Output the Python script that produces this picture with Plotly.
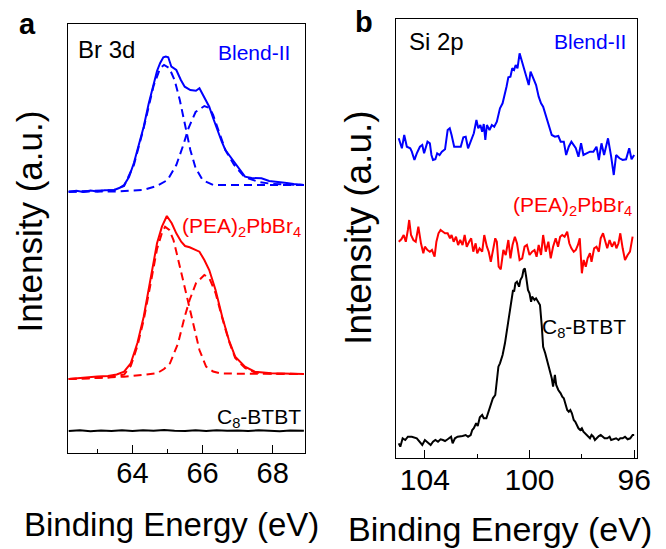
import plotly.graph_objects as go

# ---------------- Panel a: Br 3d ----------------
br_blend = [(62.18, 261.3), (62.4, 262.3), (62.6, 261.0), (62.8, 262.5), (63.0, 261.5), (63.2, 262.8),
            (63.48, 263.0), (63.62, 265.0), (63.76, 268.0), (63.9, 276.0), (64.04, 290.0), (64.18, 307.0),
            (64.32, 326.3), (64.46, 349.0), (64.6, 370.0), (64.7, 382.0), (64.79, 390.0), (64.88, 395.7),
            (64.95, 396.5), (65.02, 395.7), (65.11, 386.3), (65.25, 383.0), (65.38, 373.0), (65.49, 366.3),
            (65.65, 363.0), (65.81, 362.3), (65.91, 364.7), (66.05, 356.0), (66.19, 346.3), (66.3, 335.0),
            (66.42, 323.0), (66.55, 311.0), (66.65, 303.0), (66.8, 296.0), (66.93, 290.0), (67.07, 283.0),
            (67.21, 276.3), (67.4, 275.0), (67.68, 274.7), (67.9, 272.0), (68.14, 270.7), (68.4, 270.0),
            (68.6, 269.0), (68.89, 268.0)]
br_blend_fit1 = [(62.18, 261.3), (63.48, 263.0), (63.76, 267.0), (64.04, 288.0), (64.32, 325.0), (64.6, 367.0),
                 (64.79, 385.0), (64.9, 388.0), (65.05, 385.0), (65.2, 373.0), (65.35, 353.0), (65.5, 328.0),
                 (65.65, 303.0), (65.8, 285.0), (66.0, 273.0), (66.3, 268.0), (66.8, 267.7), (67.5, 268.0),
                 (68.89, 268.0)]
br_blend_fit2 = [(62.18, 261.3), (63.5, 261.5), (64.3, 263.0), (64.7, 267.0), (65.0, 273.0), (65.25, 288.0),
                 (65.45, 308.0), (65.6, 325.0), (65.8, 341.0), (66.05, 347.0), (66.2, 345.0), (66.3, 338.0),
                 (66.45, 323.0), (66.65, 303.0), (66.9, 288.0), (67.2, 276.0), (67.6, 271.0), (68.0, 269.0),
                 (68.89, 268.0)]
br_pea = [(62.18, 74.0), (62.6, 75.5), (63.0, 76.5), (63.3, 77.0), (63.55, 78.5), (63.76, 81.3), (63.95, 89.7),
          (64.14, 110.0), (64.32, 136.3), (64.51, 173.0), (64.7, 209.7), (64.84, 226.3), (64.98, 237.0),
          (65.12, 229.7), (65.25, 219.7), (65.39, 211.3), (65.5, 207.0), (65.63, 205.7), (65.78, 203.5),
          (65.91, 201.3), (66.05, 193.0), (66.19, 183.0), (66.37, 163.0), (66.56, 136.3), (66.75, 113.0),
          (66.93, 96.3), (67.21, 86.3), (67.49, 81.3), (67.96, 79.7), (68.4, 79.3), (68.89, 79.0)]
br_pea_fit1 = [(62.18, 74.0), (63.3, 75.5), (63.76, 78.5), (63.95, 87.0), (64.14, 107.0), (64.32, 133.0),
               (64.51, 168.0), (64.7, 204.0), (64.84, 220.0), (64.93, 226.3), (65.05, 223.0), (65.17, 213.0),
               (65.28, 197.0), (65.39, 180.0), (65.5, 163.0), (65.63, 146.0), (65.75, 125.0), (65.91, 103.0),
               (66.1, 86.3), (66.3, 81.5), (66.5, 79.7), (67.0, 79.3), (68.89, 79.0)]
br_pea_fit2 = [(62.18, 74.0), (63.76, 76.3), (64.7, 79.7), (64.9, 84.0), (65.07, 89.7), (65.3, 109.7),
               (65.49, 136.3), (65.63, 153.0), (65.81, 169.7), (66.05, 178.0), (66.19, 175.0), (66.37, 160.0),
               (66.56, 135.0), (66.75, 112.0), (66.93, 95.0), (67.21, 85.0), (67.5, 80.5), (68.0, 79.3),
               (68.89, 79.0)]
br_c8 = [(62.18, 22.0), (62.5, 22.8), (62.8, 21.8), (63.1, 22.6), (63.4, 22.0), (63.7, 22.7), (64.0, 22.1),
         (64.3, 22.8), (64.6, 22.2), (64.9, 22.9), (65.2, 22.3), (65.5, 22.0), (65.8, 22.7), (66.1, 22.1),
         (66.4, 22.8), (66.7, 22.2), (67.0, 22.6), (67.3, 22.0), (67.6, 22.8), (67.9, 22.3), (68.2, 21.7),
         (68.5, 22.6), (68.89, 22.2)]

# ---------------- Panel b: Si 2p ----------------
si_blend = [(105.0, 319.4), (104.88, 309.4), (104.79, 322.7), (104.69, 311.0), (104.56, 309.4), (104.5, 306.0),
            (104.4, 297.7), (104.31, 304.4), (104.19, 311.0), (104.1, 312.7), (104.03, 304.4), (103.9, 316.0),
            (103.81, 314.4), (103.75, 302.7), (103.69, 297.7), (103.6, 298.4), (103.53, 304.4), (103.44, 302.7),
            (103.35, 306.0), (103.23, 308.4), (103.13, 327.7), (103.05, 329.4), (102.98, 322.7), (102.88, 311.0),
            (102.75, 311.0), (102.63, 311.0), (102.53, 320.4), (102.44, 321.0), (102.35, 309.4), (102.25, 316.0),
            (102.13, 324.4), (102.03, 337.7), (101.96, 329.4), (101.88, 332.7), (101.81, 326.0), (101.75, 333.7),
            (101.69, 317.7), (101.63, 332.7), (101.53, 327.7), (101.44, 332.7), (101.35, 331.0), (101.25, 336.0),
            (101.13, 349.4), (101.03, 354.4), (100.96, 361.0), (100.88, 371.0), (100.81, 380.4), (100.73, 381.0),
            (100.66, 389.4), (100.59, 387.7), (100.53, 392.7), (100.46, 389.4), (100.38, 404.4), (100.28, 396.0),
            (100.19, 386.0), (100.13, 382.7), (100.03, 372.7), (99.96, 386.0), (99.88, 381.0), (99.75, 372.7),
            (99.65, 361.0), (99.56, 354.4), (99.48, 351.0), (99.38, 342.7), (99.25, 332.7), (99.15, 322.7),
            (99.03, 321.0), (98.9, 321.7), (98.81, 316.0), (98.69, 316.0), (98.6, 302.7), (98.5, 311.0),
            (98.4, 316.0), (98.31, 312.7), (98.23, 309.4), (98.13, 301.0), (98.03, 314.4), (97.94, 302.7),
            (97.81, 304.4), (97.69, 306.0), (97.56, 306.0), (97.44, 311.0), (97.35, 297.7), (97.25, 314.4),
            (97.15, 302.7), (97.0, 319.4), (96.88, 301.0), (96.78, 282.7), (96.69, 302.7), (96.56, 299.4),
            (96.44, 297.7), (96.31, 298.4), (96.19, 309.4), (96.1, 298.4), (96.0, 302.7)]
si_pea = [(105.0, 216.0), (104.9, 218.4), (104.81, 222.7), (104.73, 216.0), (104.65, 227.7), (104.6, 237.7),
          (104.53, 222.7), (104.44, 217.7), (104.35, 216.0), (104.25, 231.0), (104.15, 214.4), (104.06, 204.4),
          (104.0, 211.0), (103.9, 207.7), (103.81, 206.0), (103.73, 207.7), (103.63, 201.0), (103.56, 216.0),
          (103.48, 224.4), (103.4, 227.7), (103.31, 226.0), (103.23, 224.4), (103.13, 224.4), (103.04, 219.4),
          (102.98, 222.7), (102.9, 216.0), (102.81, 221.0), (102.73, 212.7), (102.65, 217.7), (102.56, 212.7),
          (102.48, 222.7), (102.4, 211.0), (102.31, 216.0), (102.23, 219.4), (102.15, 206.0), (102.06, 214.4),
          (102.0, 204.4), (101.91, 209.4), (101.81, 206.0), (101.73, 222.7), (101.63, 211.0), (101.56, 206.0),
          (101.48, 196.0), (101.4, 207.7), (101.31, 219.4), (101.25, 216.0), (101.18, 191.0), (101.1, 188.4),
          (101.0, 207.7), (100.91, 202.7), (100.81, 217.7), (100.73, 199.4), (100.65, 212.7), (100.56, 221.0),
          (100.48, 214.4), (100.38, 197.7), (100.28, 199.4), (100.19, 211.0), (100.1, 212.7), (100.0, 202.7),
          (99.9, 206.0), (99.81, 207.7), (99.73, 201.0), (99.65, 212.7), (99.56, 202.7), (99.48, 222.7),
          (99.38, 206.0), (99.28, 216.0), (99.19, 199.4), (99.1, 211.0), (99.0, 219.4), (98.91, 211.0),
          (98.83, 221.0), (98.75, 222.7), (98.66, 221.0), (98.56, 226.0), (98.48, 214.4), (98.4, 209.4),
          (98.31, 206.0), (98.23, 207.7), (98.15, 212.7), (98.08, 219.4), (98.0, 184.4), (97.93, 197.7),
          (97.85, 191.0), (97.78, 199.4), (97.69, 204.4), (97.63, 196.0), (97.53, 209.4), (97.44, 211.0),
          (97.35, 206.0), (97.28, 219.4), (97.19, 224.4), (97.1, 216.0), (97.03, 209.4), (96.94, 217.7),
          (96.85, 211.0), (96.75, 216.0), (96.68, 209.4), (96.6, 214.4), (96.53, 224.4), (96.44, 209.4),
          (96.35, 197.7), (96.25, 202.7), (96.16, 206.0), (96.06, 221.0)]
si_c8 = [(105.0, 14.4), (104.94, 11.0), (104.85, 19.4), (104.75, 17.7), (104.65, 21.0), (104.5, 21.0),
         (104.31, 19.4), (104.19, 16.0), (104.1, 12.7), (104.0, 17.7), (103.88, 14.4), (103.78, 12.7),
         (103.69, 16.0), (103.6, 17.7), (103.5, 16.0), (103.4, 18.4), (103.31, 17.7), (103.23, 16.7),
         (103.13, 18.4), (103.0, 21.0), (102.94, 14.4), (102.85, 19.4), (102.75, 21.0), (102.65, 21.0),
         (102.56, 21.7), (102.44, 22.7), (102.35, 21.0), (102.25, 22.7), (102.19, 27.7), (102.13, 29.4),
         (102.04, 34.4), (101.98, 31.7), (101.9, 40.4), (101.81, 42.7), (101.75, 39.4), (101.65, 39.4),
         (101.59, 44.4), (101.5, 51.0), (101.4, 59.4), (101.31, 62.7), (101.25, 74.4), (101.19, 91.0),
         (101.13, 94.4), (101.03, 102.7), (100.94, 114.4), (100.88, 124.4), (100.81, 134.4), (100.75, 144.4),
         (100.69, 157.7), (100.63, 167.7), (100.59, 166.0), (100.54, 174.4), (100.48, 176.0), (100.4, 171.0),
         (100.35, 177.7), (100.28, 181.0), (100.23, 187.7), (100.18, 189.4), (100.13, 181.0), (100.06, 167.7),
         (100.0, 164.4), (99.94, 156.0), (99.9, 161.0), (99.81, 157.7), (99.75, 159.4), (99.65, 154.4),
         (99.6, 152.7), (99.53, 131.0), (99.48, 111.0), (99.4, 104.4), (99.31, 96.0), (99.23, 86.0),
         (99.15, 79.4), (99.1, 71.0), (99.03, 82.7), (98.98, 72.7), (98.9, 67.7), (98.81, 64.4), (98.75, 61.0),
         (98.69, 59.4), (98.63, 54.4), (98.56, 47.7), (98.5, 46.0), (98.44, 47.7), (98.38, 44.4), (98.31, 37.7),
         (98.25, 36.0), (98.19, 32.7), (98.13, 29.4), (98.06, 27.7), (98.0, 29.4), (97.94, 26.0), (97.88, 24.4),
         (97.78, 21.0), (97.69, 19.4), (97.63, 22.7), (97.56, 21.0), (97.5, 17.7), (97.44, 19.4), (97.35, 21.7),
         (97.28, 22.7), (97.19, 21.0), (97.13, 19.4), (97.03, 19.4), (96.94, 21.0), (96.88, 17.7), (96.78, 18.4),
         (96.69, 19.4), (96.6, 17.7), (96.53, 19.4), (96.44, 19.4), (96.35, 21.0), (96.25, 18.4), (96.15, 19.4),
         (96.06, 22.7), (96.0, 22.7)]

a_xticks = [64, 66, 68]
b_xticks = [104, 100, 96]

BLUE = "#0000ff"
RED = "#ff0000"
BLACK = "#000000"
FONT = "Liberation Sans, Arial, sans-serif"
W, H = 666, 549


def xy(pairs):
    return [p[0] for p in pairs], [p[1] for p in pairs]


fig = go.Figure()


def add(pairs, color, xa, ya, dash=None):
    x, y = xy(pairs)
    line = dict(color=color, width=2)
    if dash:
        line["dash"] = "8px,5px"
    fig.add_trace(go.Scatter(x=x, y=y, mode="lines", line=line, xaxis=xa, yaxis=ya,
                             showlegend=False, hoverinfo="skip"))


add(br_blend_fit1, BLUE, "x", "y", dash=True)
add(br_blend_fit2, BLUE, "x", "y", dash=True)
add(br_blend, BLUE, "x", "y")
add(br_pea_fit1, RED, "x", "y", dash=True)
add(br_pea_fit2, RED, "x", "y", dash=True)
add(br_pea, RED, "x", "y")
add(br_c8, BLACK, "x", "y")
add(si_blend, BLUE, "x2", "y2")
add(si_pea, RED, "x2", "y2")
add(si_c8, BLACK, "x2", "y2")

axis_common = dict(showline=True, mirror=True, linecolor="black", linewidth=1.3,
                   showgrid=False, zeroline=False)

fig.update_layout(
    width=W, height=H,
    margin=dict(l=0, r=0, t=0, b=0),
    paper_bgcolor="white", plot_bgcolor="white",
    font=dict(family=FONT, color="black"),
    xaxis=dict(domain=[69 / W, 311 / W], range=[62.15, 68.92], anchor="y",
               tickmode="array", tickvals=a_xticks, ticktext=[str(v) for v in a_xticks],
               ticks="inside", ticklen=8, tickwidth=1.3, tickcolor="black",
               minor=dict(ticks="inside", ticklen=4, dtick=1, tick0=63, tickcolor="black", tickwidth=1.3),
               tickfont=dict(size=29, family=FONT), ticklabelstandoff=-6, **axis_common),
    yaxis=dict(domain=[(H - 453) / H, (H - 24) / H], range=[0, 429], anchor="x",
               showticklabels=False, ticks="", **axis_common),
    xaxis2=dict(domain=[404 / W, 650 / W], range=[105.1, 95.88], anchor="y2",
                tickmode="array", tickvals=b_xticks, ticktext=[str(v) for v in b_xticks],
                ticks="inside", ticklen=8, tickwidth=1.3, tickcolor="black",
                minor=dict(ticks="inside", ticklen=4, dtick=2, tick0=96, tickcolor="black", tickwidth=1.3),
                tickfont=dict(size=30, family=FONT), ticklabelstandoff=-5, **axis_common),
    yaxis2=dict(domain=[(H - 457.7) / H, (H - 19) / H], range=[0, 438.7], anchor="x2",
                showticklabels=False, ticks="", **axis_common),
)


def ann(text, x, y, size, color="black", xanchor="center", angle=0, bold=False):
    if bold:
        text = "<b>" + text + "</b>"
    fig.add_annotation(text=text, x=x / W, y=1 - y / H, xref="paper", yref="paper",
                       xanchor=xanchor, yanchor="middle", showarrow=False, textangle=angle,
                       font=dict(size=size, color=color, family=FONT))


# panel letters
ann("a", 28, 24, 29, bold=True)
ann("b", 371, 22, 29, bold=True)
# axis titles
ann("Binding Energy (eV)", 174.5, 524, 33)
ann("Binding Energy (eV)", 510, 529, 34)
ann("Intensity (a.u.)", 30, 221, 35, angle=-90)
ann("Intensity (a.u.)", 365, 228, 37, angle=-90)
# panel a labels
ann("Br 3d", 78, 50, 24, xanchor="left")
ann("Blend-II", 298, 53, 21, color=BLUE, xanchor="right")
ann("(PEA)<sub>2</sub>PbBr<sub>4</sub>", 309, 227, 21, color=RED, xanchor="right")
ann("C<sub>8</sub>-BTBT", 309, 418, 21, xanchor="right")
# panel b labels
ann("Si 2p", 415, 42, 24, xanchor="left")
ann("Blend-II", 640, 42, 21, color=BLUE, xanchor="right")
ann("(PEA)<sub>2</sub>PbBr<sub>4</sub>", 647, 206, 21, color=RED, xanchor="right")
ann("C<sub>8</sub>-BTBT", 641, 328, 21, xanchor="right")

fig.write_html("out.html")
